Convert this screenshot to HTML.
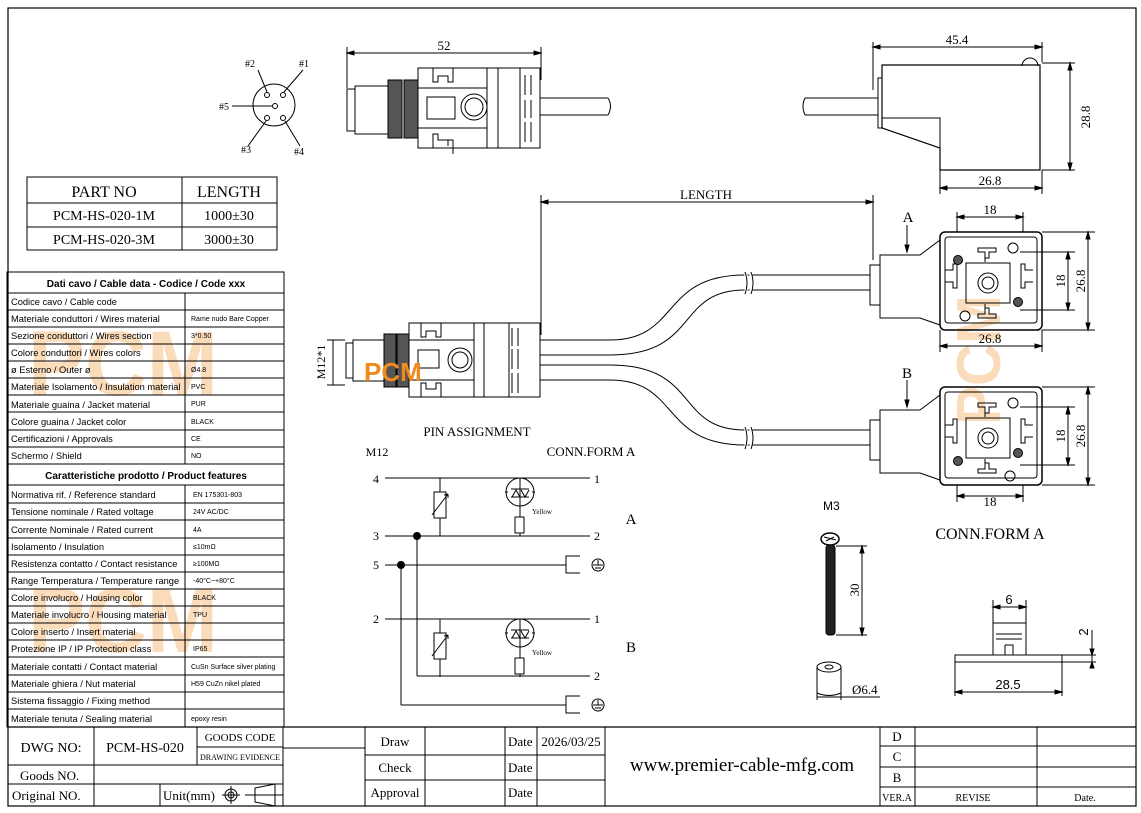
<!DOCTYPE html>
<html><head><meta charset="utf-8"><style>
html,body{margin:0;padding:0;background:#fff;}
svg{display:block;}
.s{font-family:"Liberation Serif",serif;}
.a{font-family:"Liberation Sans",sans-serif;}
</style></head><body>
<svg width="1141" height="813" viewBox="0 0 1141 813" xmlns="http://www.w3.org/2000/svg" fill="none" stroke="#000" stroke-width="1">
<rect x="8" y="8" width="1128" height="798" stroke-width="1.2"/>

<!-- pin diagram -->
<circle cx="274" cy="105" r="21"/>
<circle cx="267" cy="95" r="2.5"/><circle cx="283" cy="95" r="2.5"/>
<circle cx="275" cy="106" r="2.5"/><circle cx="267" cy="118" r="2.5"/><circle cx="283" cy="118" r="2.5"/>
<path d="M258 70 L267 92 M303 70 L284 92 M232 106 L272 106 M248 146 L266 121 M300 146 L285 121"/>
<g class="s" fill="#000" stroke="none" font-size="10">
<text x="245" y="67">#2</text><text x="299" y="67">#1</text><text x="219" y="110">#5</text>
<text x="241" y="153">#3</text><text x="294" y="155">#4</text></g>

<!-- part no table -->
<rect x="27" y="177" width="250" height="73"/>
<path d="M182 177V250 M27 203H277 M27 227H277"/>
<g class="s" fill="#000" stroke="none" font-size="16" text-anchor="middle">
<text x="104" y="197">PART NO</text><text x="229" y="197">LENGTH</text></g>
<g class="s" fill="#000" stroke="none" font-size="14" text-anchor="middle">
<text x="104" y="220">PCM-HS-020-1M</text><text x="229" y="220">1000±30</text>
<text x="104" y="244">PCM-HS-020-3M</text><text x="229" y="244">3000±30</text></g>

<!-- watermarks -->
<g class="a" fill="#f39a3a" stroke="none" font-weight="bold" opacity="0.35">
<text x="28" y="395" font-size="92" textLength="190" lengthAdjust="spacingAndGlyphs">PCM</text>
<text x="28" y="652" font-size="92" textLength="190" lengthAdjust="spacingAndGlyphs">PCM</text>
<text transform="translate(1000,425) rotate(-90)" font-size="62" textLength="130" lengthAdjust="spacingAndGlyphs">PCM</text>
</g>

<!-- spec table -->
<rect x="7" y="272" width="277" height="455"/>
<path d="M7 293H284 M7 464H284 M7 485H284 M185 293V464 M185 485V727"/>
<path d="M7 310H284M7 327H284M7 344H284M7 361H284M7 378H284M7 395H284M7 412H284M7 430H284M7 447H284"/>
<path d="M7 503H284M7 520H284M7 538H284M7 555H284M7 572H284M7 589H284M7 606H284M7 623H284M7 640H284M7 657H284M7 675H284M7 692H284M7 709H284"/>
<g class="a" fill="#000" stroke="none" font-size="9.3">
<text x="146" y="287" text-anchor="middle" font-weight="bold" font-size="10">Dati cavo / Cable data - Codice / Code xxx</text>
<text x="11" y="305">Codice cavo / Cable code</text>
<text x="11" y="322">Materiale conduttori / Wires material</text>
<text x="11" y="339">Sezione conduttori / Wires section</text>
<text x="11" y="356">Colore conduttori / Wires colors</text>
<text x="11" y="373">ø Esterno / Outer ø</text>
<text x="11" y="390">Materiale Isolamento / Insulation material</text>
<text x="11" y="408">Materiale guaina / Jacket material</text>
<text x="11" y="425">Colore guaina / Jacket color</text>
<text x="11" y="442">Certificazioni / Approvals</text>
<text x="11" y="459">Schermo / Shield</text>
<text x="146" y="479" text-anchor="middle" font-weight="bold" font-size="10">Caratteristiche prodotto / Product features</text>
<text x="11" y="498">Normativa rif. / Reference standard</text>
<text x="11" y="515">Tensione nominale / Rated voltage</text>
<text x="11" y="533">Corrente Nominale / Rated current</text>
<text x="11" y="550">Isolamento / Insulation</text>
<text x="11" y="567">Resistenza contatto / Contact resistance</text>
<text x="11" y="584">Range Temperatura / Temperature range</text>
<text x="11" y="601">Colore involucro / Housing color</text>
<text x="11" y="618">Materiale involucro / Housing material</text>
<text x="11" y="635">Colore inserto / Insert material</text>
<text x="11" y="652">Protezione IP / IP Protection class</text>
<text x="11" y="670">Materiale contatti / Contact material</text>
<text x="11" y="687">Materiale ghiera / Nut material</text>
<text x="11" y="704">Sistema fissaggio / Fixing  method</text>
<text x="11" y="722">Materiale tenuta / Sealing material</text>
</g>
<g class="a" fill="#000" stroke="none" font-size="7">
<text x="191" y="321">Rame nudo Bare Copper</text>
<text x="191" y="338">3*0.50</text>
<text x="191" y="372">Ø4.8</text>
<text x="191" y="389">PVC</text>
<text x="191" y="406">PUR</text>
<text x="191" y="424">BLACK</text>
<text x="191" y="441">CE</text>
<text x="191" y="458">NO</text>
<text x="193" y="497">EN 175301-803</text>
<text x="193" y="514">24V  AC/DC</text>
<text x="193" y="532">4A</text>
<text x="193" y="549">≤10mΩ</text>
<text x="193" y="566">≥100MΩ</text>
<text x="193" y="583">-40°C~+80°C</text>
<text x="193" y="600">BLACK</text>
<text x="193" y="617">TPU</text>
<text x="193" y="651">IP65</text>
<text x="191" y="669">CuSn Surface silver plating</text>
<text x="191" y="686">H59 CuZn nikel plated</text>
<text x="191" y="721">epoxy resin</text>
</g>

<!-- title block -->
<path d="M8 727H1136" stroke-width="1.2"/>
<path d="M94 727V806 M197 727V765 M283 727V806 M365 727V806 M425 727V806 M505 727V806 M537 727V806 M605 727V806 M880 727V806 M915 727V806 M1037 727V806 M160 784V806"/>
<path d="M197 747H283 M8 765H283 M8 784H283 M283 748H365 M365 755H605 M365 780H605 M880 746H1136 M880 767H1136 M880 787H1136"/>
<g class="s" fill="#000" stroke="none">
<text x="51" y="752" font-size="14" text-anchor="middle">DWG NO:</text>
<text x="145" y="752" font-size="14" text-anchor="middle">PCM-HS-020</text>
<text x="240" y="741" font-size="11" text-anchor="middle">GOODS CODE</text>
<text x="240" y="760" font-size="8" text-anchor="middle">DRAWING EVIDENCE</text>
<text x="20" y="780" font-size="13">Goods NO.</text>
<text x="12" y="800" font-size="13">Original NO.</text>
<text x="163" y="800" font-size="13">Unit(mm)</text>
<text x="395" y="746" font-size="13" text-anchor="middle">Draw</text>
<text x="395" y="772" font-size="13" text-anchor="middle">Check</text>
<text x="395" y="797" font-size="13" text-anchor="middle">Approval</text>
<text x="508" y="746" font-size="13">Date</text>
<text x="508" y="772" font-size="13">Date</text>
<text x="508" y="797" font-size="13">Date</text>
<text x="571" y="746" font-size="13" text-anchor="middle">2026/03/25</text>
<text x="742" y="771" font-size="19" text-anchor="middle">www.premier-cable-mfg.com</text>
<text x="897" y="741" font-size="13" text-anchor="middle">D</text>
<text x="897" y="761" font-size="13" text-anchor="middle">C</text>
<text x="897" y="782" font-size="13" text-anchor="middle">B</text>
<text x="897" y="801" font-size="10" text-anchor="middle">VER.A</text>
<text x="973" y="801" font-size="10" text-anchor="middle">REVISE</text>
<text x="1085" y="801" font-size="10" text-anchor="middle">Date.</text>
</g>
<circle cx="231" cy="795" r="6"/><circle cx="231" cy="795" r="3"/><path d="M222 795H240 M231 786V804"/>
<path d="M245 795H283 M255 788L275 784V806L255 802Z"/>

<!-- top M12 connector -->
<path d="M347 53H541 M347 47V88 M541 47V80"/>
<path d="M347 53l7-2v4z M541 53l-7-2v4z" fill="#000"/>
<text class="s" x="444" y="50" font-size="13" fill="#000" stroke="none" text-anchor="middle">52</text>
<rect x="347" y="89" width="8" height="42"/>
<rect x="355" y="86" width="35" height="48"/>
<rect x="388" y="80" width="14" height="58" fill="#555"/>
<rect x="404" y="80" width="14" height="58" fill="#555"/>
<path d="M418 68H487V148H418Z M433 68v14h5v-6h10v6h5v-14 M433 148v-14h5v6h10v6v-6h5v14 M418 88H487 M418 128H487"/>
<rect x="427" y="97" width="28" height="22"/>
<circle cx="474" cy="107" r="13"/><circle cx="474" cy="107" r="9"/>
<path d="M487 68H540V148H487Z M498 68V148 M520 68V148 M525 75v20 M531 75v20 M525 100v18 M531 100v18 M525 122v20 M531 122v20"/>
<path d="M540 98H608 M540 115H608 M608 98q5 8 0 17"/>

<!-- top right side view -->
<path d="M873 42V90 M1042 42V62 M873 47H1042"/>
<path d="M873 47l7-2v4z M1042 47l-7-2v4z" fill="#000"/>
<text class="s" x="957" y="44" font-size="13" fill="#000" stroke="none" text-anchor="middle">45.4</text>
<path d="M1022 66a8 8 0 0 1 16 0"/>
<path d="M882 65H1040V170H940V148L882 128Z" stroke-width="1.2"/>
<path d="M878 78H882V128H878Z M882 118H940V148 M805 98H878 M805 115H878 M805 98q-4 8 0 17"/>
<path d="M1042 63H1075 M1042 170H1075 M1070 63V170"/>
<path d="M1070 63l-2 7h4z M1070 170l-2-7h4z" fill="#000"/>
<text class="s" transform="translate(1090,117) rotate(-90)" font-size="13" fill="#000" stroke="none" text-anchor="middle">28.8</text>
<path d="M940 170V194 M1042 170V194 M940 188H1042"/>
<path d="M940 188l7-2v4z M1042 188l-7-2v4z" fill="#000"/>
<text class="s" x="990" y="185" font-size="13" fill="#000" stroke="none" text-anchor="middle">26.8</text>

<!-- LENGTH -->
<path d="M541 195V335 M873 195V260 M541 202H873"/>
<path d="M541 202l7-2v4z M873 202l-7-2v4z" fill="#000"/>
<text class="s" x="706" y="199" font-size="13" fill="#000" stroke="none" text-anchor="middle">LENGTH</text>

<!-- middle M12 connector -->
<path d="M333 340V385 M327 340H345 M327 385H345"/>
<text class="s" transform="translate(325,362) rotate(-90)" font-size="12" fill="#000" stroke="none" text-anchor="middle">M12*1</text>
<rect x="346" y="343" width="7" height="35"/>
<rect x="353" y="340" width="32" height="41"/>
<rect x="384" y="334" width="12" height="53" fill="#555"/>
<rect x="397" y="334" width="12" height="53" fill="#555"/>
<path d="M409 323H474V397H409Z M421 323v14h5v-6h10v6h5v-14 M421 397v-14h5v6h10v-6h5v14 M409 340H474 M409 380H474"/>
<rect x="418" y="350" width="21" height="18"/>
<circle cx="460" cy="360" r="12"/><circle cx="460" cy="360" r="8"/>
<path d="M474 323H540V397H474Z M484 323V397 M509 323V397 M512 328v18 M518 328v18 M512 349v20 M518 349v20 M512 373v20 M518 373v20"/>
<text class="a" x="364" y="381" font-size="26" font-weight="bold" fill="#f08a1c" stroke="none">PCM</text>
<!-- cables -->
<path d="M540 340H610 C680 340 660 275 745 275 H870 M540 355H610 C700 355 675 290 745 290 H870"/>
<path d="M540 365H610 C700 365 675 430 745 430 H870 M540 380H610 C680 380 660 445 745 445 H870"/>
<path d="M745 272q4 11 0 22 M750 272q4 11 0 22 M745 427q4 11 0 22 M750 427q4 11 0 22" stroke="#fff" stroke-width="3"/>
<path d="M745 272q4 11 0 22 M751 272q4 11 0 22 M745 427q4 11 0 22 M751 427q4 11 0 22"/>

<!-- connector A -->
<g>
<path d="M870 265H880V305H870Z M880 255H920L940 240V325L920 318H880Z"/>
<rect x="940" y="232" width="102" height="98" rx="5" stroke-width="1.5"/>
<rect x="945" y="237" width="92" height="86" rx="3"/>
<rect x="966" y="263" width="44" height="40"/>
<circle cx="988" cy="283" r="10"/><circle cx="988" cy="283" r="6"/>
<path d="M978 248h18v4h-7v6h-4v-6h-7z M985 252v10 M945 270h8v-6h4v24h-4v-6h-8 M1033 270h-8v-6h-4v24h4v-6h8 M978 318h18v-4h-7v-6h-4v6h-7z M985 314v-10"/>
<circle cx="1013" cy="248" r="5"/><circle cx="958" cy="260" r="4.5" fill="#555"/><circle cx="1018" cy="302" r="4.5" fill="#555"/><circle cx="965" cy="316" r="5"/>
</g>
<g transform="translate(0,155)">
<path d="M870 265H880V305H870Z M880 255H920L940 240V325L920 318H880Z"/>
<rect x="940" y="232" width="102" height="98" rx="5" stroke-width="1.5"/>
<rect x="945" y="237" width="92" height="86" rx="3"/>
<rect x="966" y="263" width="44" height="40"/>
<circle cx="988" cy="283" r="10"/><circle cx="988" cy="283" r="6"/>
<path d="M978 248h18v4h-7v6h-4v-6h-7z M985 252v10 M945 270h8v-6h4v24h-4v-6h-8 M1033 270h-8v-6h-4v24h4v-6h8 M978 318h18v-4h-7v-6h-4v6h-7z M985 314v-10"/>
<circle cx="1013" cy="248" r="5"/><circle cx="958" cy="306" r="4.5" fill="#555"/><circle cx="1018" cy="298" r="4.5" fill="#555"/><circle cx="1010" cy="321" r="5"/>
</g>
<!-- A dims -->
<path d="M957 212V232 M1023 212V232 M957 217H1023 M907 225V252 M1042 232H1095 M1042 330H1095 M1088 232V330 M1020 252H1075 M1020 310H1075 M1068 252V310 M940 330V352 M1042 330V352 M940 346H1042"/>
<path d="M957 217l7-2v4z M1023 217l-7-2v4z M907 252l-2-7h4z M1088 232l-2 7h4z M1088 330l-2-7h4z M1068 252l-2 7h4z M1068 310l-2-7h4z M940 346l7-2v4z M1042 346l-7-2v4z" fill="#000"/>
<!-- B dims -->
<path d="M907 380V407 M1042 387H1095 M1042 485H1095 M1088 387V485 M1020 407H1075 M1020 465H1075 M1068 407V465 M957 485V502 M1023 485V502 M957 496H1023"/>
<path d="M907 407l-2-7h4z M1088 387l-2 7h4z M1088 485l-2-7h4z M1068 407l-2 7h4z M1068 465l-2-7h4z M957 496l7-2v4z M1023 496l-7-2v4z" fill="#000"/>
<g class="s" fill="#000" stroke="none" font-size="13" text-anchor="middle">
<text x="990" y="214">18</text><text x="908" y="222" font-size="15">A</text>
<text x="990" y="343">26.8</text><text x="907" y="378" font-size="15">B</text>
<text x="990" y="506">18</text>
<text transform="translate(1065,281) rotate(-90)">18</text>
<text transform="translate(1085,281) rotate(-90)">26.8</text>
<text transform="translate(1065,436) rotate(-90)">18</text>
<text transform="translate(1085,436) rotate(-90)">26.8</text>
<text x="990" y="539" font-size="16">CONN.FORM A</text>
<text x="477" y="436">PIN   ASSIGNMENT</text>
<text x="377" y="456" font-size="12">M12</text>
<text x="591" y="456" font-size="13">CONN.FORM A</text>
<text x="376" y="483" font-size="12">4</text><text x="376" y="540" font-size="12">3</text>
<text x="376" y="569" font-size="12">5</text><text x="376" y="623" font-size="12">2</text>
<text x="597" y="483" font-size="12">1</text><text x="597" y="540" font-size="12">2</text>
<text x="597" y="623" font-size="12">1</text><text x="597" y="680" font-size="12">2</text>
<text x="631" y="524" font-size="15">A</text><text x="631" y="652" font-size="15">B</text>
</g>

<!-- schematic -->
<path d="M385 478H590 M385 536H590 M385 565H566 M385 619H590 M417 676H590 M401 705H566 M417 536V676 M401 565V705"/>
<path d="M580 556H566V573H580 M580 696H566V713H580"/>
<circle cx="417" cy="536" r="3.5" fill="#000"/><circle cx="401" cy="565" r="3.5" fill="#000"/>
<circle cx="598" cy="565" r="6"/><path d="M593 565h10 M595 568h6 M597 571h2 M598 560v5"/>
<circle cx="598" cy="705" r="6"/><path d="M593 705h10 M595 708h6 M597 711h2 M598 700v5"/>
<g id="rl">
<path d="M440 478V492 M440 518V536"/>
<rect x="434" y="492" width="12" height="26"/>
<path d="M432 515L448 494 M448 494l-4 1 M448 494v4"/>
<circle cx="520" cy="492" r="14"/>
<path d="M520 478V517 M520 533V536 M511 489h18 M511 497h18 M512 497l4-7 4 7 M521 490l4 7 4-7 M508 492h-3 M532 492h3"/>
<rect x="515" y="517" width="9" height="16"/>
</g>
<use href="#rl" transform="translate(0,141)"/>
<g class="s" fill="#000" stroke="none" font-size="7"><text x="532" y="514">Yellow</text><text x="532" y="655">Yellow</text></g>

<!-- M3 screw -->
<text class="a" x="823" y="510" font-size="12" fill="#000" stroke="none">M3</text>
<ellipse cx="830" cy="539" rx="9" ry="6" fill="#fff" stroke-width="1.5"/>
<path d="M824 537l12 3 M826 541l8-4"/>
<rect x="826" y="545" width="9" height="90" rx="3" fill="#222"/>
<path d="M836 546H867 M836 635H867 M862 546V635"/>
<path d="M862 546l-2 7h4z M862 635l-2-7h4z" fill="#000"/>
<text class="s" transform="translate(859,590) rotate(-90)" font-size="13" fill="#000" stroke="none" text-anchor="middle">30</text>
<ellipse cx="829" cy="667" rx="12" ry="5"/><ellipse cx="829" cy="667" rx="4" ry="2"/>
<path d="M817 667V693 M841 667V693 M817 693q12 5 24 0 M817 690V700 M841 690V700 M817 697H880"/>
<text class="s" x="852" y="694" font-size="13" fill="#000" stroke="none">Ø6.4</text>

<!-- gasket -->
<rect x="955" y="655" width="107" height="7"/>
<rect x="993" y="623" width="33" height="32"/>
<path d="M996 634h26 M996 639h26 M1005 645h8v10 M1005 645v10 M993 600V623 M1026 600V623 M993 607H1026 M955 662V696 M1062 662V696 M955 692H1062 M1062 655H1096 M1062 662H1096 M1092 630V668"/>
<path d="M993 607l7-2v4z M1026 607l-7-2v4z M955 692l7-2v4z M1062 692l-7-2v4z M1092 655l-2-6h4z M1092 662l-2 6h4z" fill="#000"/>
<g class="a" fill="#000" stroke="none" font-size="13" text-anchor="middle">
<text x="1009" y="604">6</text><text x="1008" y="689">28.5</text>
<text transform="translate(1088,632) rotate(-90)">2</text></g>
</svg>
</body></html>
